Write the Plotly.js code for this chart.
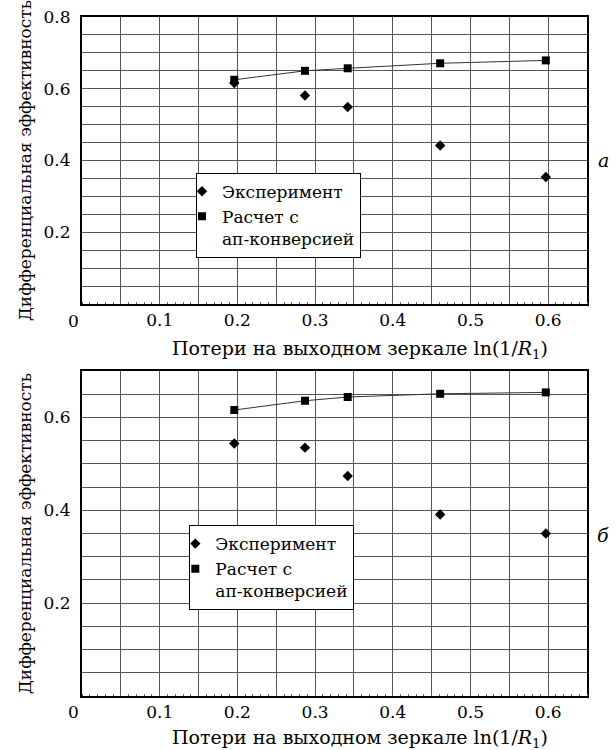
<!DOCTYPE html>
<html>
<head>
<meta charset="utf-8">
<script src="https://cdn.plot.ly/plotly-3.0.1.min.js"></script>
<style>
  html, body { margin: 0; padding: 0; background: #fff; }
  #chart { width: 616px; height: 750px; }
</style>
</head>
<body>
<div id="chart"></div>
<script>
// ---- data ----
const lossX = [0.196, 0.287, 0.342, 0.461, 0.597];
const expA  = [0.616, 0.581, 0.549, 0.442, 0.354];
const calcA = [0.625, 0.650, 0.657, 0.671, 0.679];
const expB  = [0.544, 0.535, 0.474, 0.391, 0.350];
const calcB = [0.616, 0.636, 0.644, 0.651, 0.654];

const seriesNames = ['Эксперимент', 'Расчет с<br>ап-конверсией'];
const xTickVals = [0.05, 0.1, 0.15, 0.2, 0.25, 0.3, 0.35, 0.4, 0.45, 0.5, 0.55, 0.6];
const xTickText = ['', '0.1', '', '0.2', '', '0.3', '', '0.4', '', '0.5', '', '0.6'];
const yTickValsA = [0.2, 0.4, 0.6, 0.8];
const yTickTextA = ['0.2', '0.4', '0.6', '0.8'];
const yTickValsB = [0.2, 0.4, 0.6];
const yTickTextB = ['0.2', '0.4', '0.6'];
const originLabel = '0';
const xTitle = 'Потери на выходном зеркале ln(1/<i>R</i><sub>1</sub>)';
const yTitle = 'Дифференциальная эффективность';
const panelLabels = ['а', 'б'];

const FONT = 'DejaVu Serif';
const FS = 17;

function panelTraces(xa, ya, leg, exp, calc) {
  return [
    { x: lossX, y: calc, xaxis: xa, yaxis: ya, mode: 'lines', showlegend: false,
      line: { color: '#333', width: 1 }, hoverinfo: 'skip' },
    { x: lossX, y: exp, xaxis: xa, yaxis: ya, mode: 'markers', name: seriesNames[0], legend: leg,
      marker: { symbol: 'diamond', size: 8, color: '#000' } },
    { x: lossX, y: calc, xaxis: xa, yaxis: ya, mode: 'markers', name: seriesNames[1], legend: leg,
      marker: { symbol: 'square', size: 8, color: '#000' } }
  ];
}

const data = [].concat(
  panelTraces('x', 'y', 'legend', expA, calcA),
  panelTraces('x2', 'y2', 'legend2', expB, calcB)
);

function xAxis(domainAnchor) {
  return {
    anchor: domainAnchor, range: [0, 0.65], domain: [0, 1],
    tickmode: 'array', tickvals: xTickVals, ticktext: xTickText,
    showgrid: true, gridcolor: '#555', gridwidth: 1,
    showline: true, linecolor: '#000', linewidth: 2, mirror: true,
    ticks: '', ticklabelstandoff: 0, zeroline: false,
    minor: { dtick: 0.01, tick0: 0, ticks: 'inside', ticklen: 2, tickcolor: '#666', showgrid: false },
    tickfont: { family: FONT, size: FS, color: '#000' }, fixedrange: true
  };
}
function yAxis(domain, anchor, range, tv, tt) {
  return {
    anchor: anchor, domain: domain, range: range,
    tickmode: 'array', tickvals: tv, ticktext: tt,
    showgrid: true, gridcolor: '#555', gridwidth: 1,
    minor: { dtick: 0.05, tick0: 0, showgrid: true, gridcolor: '#555', gridwidth: 1, ticks: '' },
    showline: true, linecolor: '#000', linewidth: 2, mirror: true,
    ticks: '', ticklabelstandoff: 6, zeroline: false,
    tickfont: { family: FONT, size: FS, color: '#000' },
    title: { text: yTitle, font: { family: FONT, size: 17, color: '#000' }, standoff: 8 },
    fixedrange: true
  };
}

const legendStyle = (x, y) => ({
  x: x, y: y, xanchor: 'left', yanchor: 'top', xref: 'paper', yref: 'paper',
  bgcolor: '#fff', bordercolor: '#000', borderwidth: 1,
  font: { family: FONT, size: FS, color: '#000' }, indentation: -15,
  valign: 'top', tracegroupgap: 0, itemclick: false, itemdoubleclick: false
});

const annFont = { family: FONT, size: 19, color: '#000' };
const layout = {
  width: 616, height: 750,
  margin: { l: 82, r: 29, t: 17, b: 54 },
  paper_bgcolor: '#fff', plot_bgcolor: '#fff',
  font: { family: FONT, size: FS, color: '#000' },
  xaxis: xAxis('y'),
  yaxis: yAxis([0.5773, 1], 'x', [0, 0.8], yTickValsA, yTickTextA),
  xaxis2: xAxis('y2'),
  yaxis2: yAxis([0, 0.4786], 'x2', [0, 0.7], yTickValsB, yTickTextB),
  legend: legendStyle(0.2257, 0.7707),
  legend2: legendStyle(0.2125, 0.2518),
  showlegend: true,
  annotations: [
    { text: xTitle, xref: 'paper', yref: 'paper', x: 0.5505, y: 0.5096, xanchor: 'center', yanchor: 'middle', showarrow: false, font: annFont },
    { text: xTitle, xref: 'paper', yref: 'paper', x: 0.5505, y: -0.0620, xanchor: 'center', yanchor: 'middle', showarrow: false, font: annFont },
    { text: originLabel, xref: 'paper', yref: 'paper', x: -0.0178, y: 0.5523, xanchor: 'center', yanchor: 'middle', showarrow: false, font: { family: FONT, size: FS, color: '#000' } },
    { text: originLabel, xref: 'paper', yref: 'paper', x: -0.0178, y: -0.0231, xanchor: 'center', yanchor: 'middle', showarrow: false, font: { family: FONT, size: FS, color: '#000' } },
    { text: '<i>' + panelLabels[0] + '</i>', xref: 'paper', yref: 'paper', x: 1.0317, y: 0.7894, xanchor: 'center', yanchor: 'middle', showarrow: false, font: { family: FONT, size: 19, color: '#000' } },
    { text: '<i>' + panelLabels[1] + '</i>', xref: 'paper', yref: 'paper', x: 1.0317, y: 0.2371, xanchor: 'center', yanchor: 'middle', showarrow: false, font: { family: FONT, size: 19, color: '#000' } }
  ]
};

Plotly.newPlot('chart', data, layout, { displayModeBar: false, staticPlot: true });
</script>
</body>
</html>
